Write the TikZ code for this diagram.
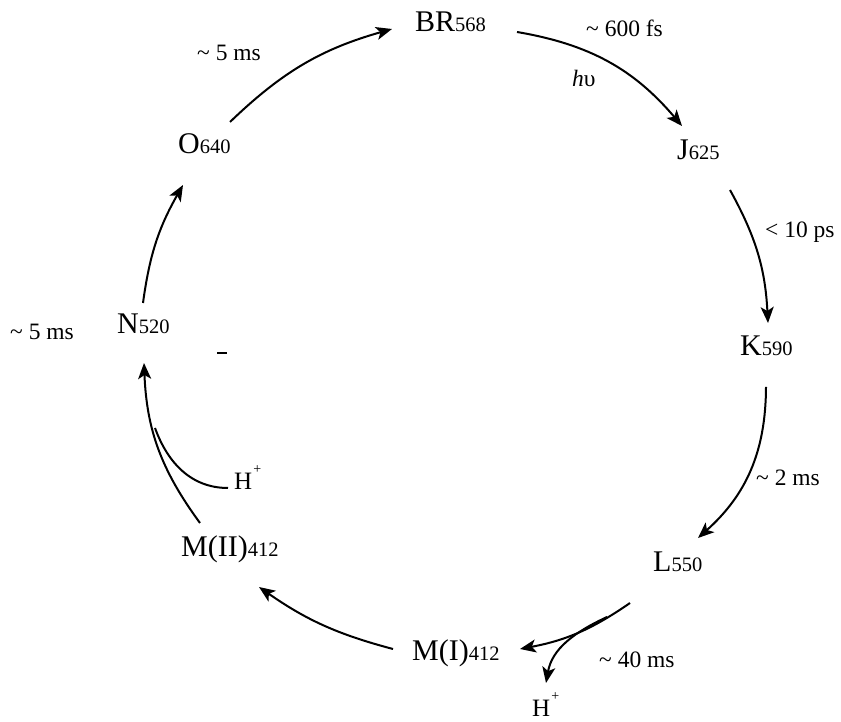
\documentclass[tikz,border=0pt]{standalone}
\usepackage{fontspec}
\setmainfont{Liberation Serif}
\usetikzlibrary{arrows.meta}
\newcommand{\stname}[2]{{\fontsize{30}{30}\selectfont #1}{\fontsize{20.5}{20.5}\selectfont #2}}
\newcommand{\hplus}{{\fontsize{25}{25}\selectfont H}\kern1pt\raisebox{16pt}{\fontsize{14}{14}\selectfont +}}
\begin{document}
\begin{tikzpicture}[x=1pt,y=1pt,
  state/.style={anchor=base west,inner sep=0pt},
  lbl/.style={anchor=base west,inner sep=0pt,font=\fontsize{23.5}{23.5}\selectfont},
  arr/.style={line width=2pt,-{Stealth[length=16pt,width=13pt,inset=4pt]}},
  lin/.style={line width=2pt}]
\useasboundingbox (0,0) rectangle (841,722);
% states
\node[state] (BR) at (415,690) {\stname{BR}{568}};
\node[state] (J)  at (677,562) {\stname{J}{625}};
\node[state] (K)  at (740,366) {\stname{K}{590}};
\node[state] (L)  at (653,150) {\stname{L}{550}};
\node[state] (MI) at (412,61)  {\stname{M(I)}{412}};
\node[state] (MII) at (181,165) {\stname{M(II)}{412}};
\node[state] (N)  at (117,388) {\stname{N}{520}};
\node[state] (O)  at (178,568) {\stname{O}{640}};
% labels
\node[lbl] (t1) at (197,661) {\textasciitilde{} 5 ms};
\node[lbl] (t2) at (586,685) {\textasciitilde{} 600 fs};
\node[lbl] (hv) at (572,635) {\textit{h}υ};
\node[lbl] (t3) at (765,484) {< 10 ps};
\node[lbl] (t4) at (756,236) {\textasciitilde{} 2 ms};
\node[lbl] (t5) at (599,54)  {\textasciitilde{} 40 ms};
\node[lbl] (t6) at (10,382)  {\textasciitilde{} 5 ms};
\node[lbl] (hA) at (234,232) {\hplus};
\node[lbl] (hB) at (532,5)   {\hplus};
% connector endpoints
\coordinate (o1) at (230,600); \coordinate (br2) at (392,693);
\coordinate (br1) at (517,690); \coordinate (j2) at (682,596);
\coordinate (j1) at (730,532); \coordinate (k2) at (768,399);
\coordinate (k1) at (766,335); \coordinate (l2) at (698,184);
\coordinate (l1) at (630,119); \coordinate (mi2) at (520,73);
\coordinate (lb) at (607,105); \coordinate (hb2) at (546,39);
\coordinate (mi1) at (393,73); \coordinate (mii2) at (259,135);
\coordinate (mii1) at (200,199); \coordinate (n2) at (144,359);
\coordinate (ha1) at (228,234); \coordinate (nb) at (155,294);
\coordinate (n1) at (143,419); \coordinate (o2) at (183,537);
\coordinate (d1) at (217,369); \coordinate (d2) at (227,369);
% connectors
\draw[arr] (o1) to[bend left=14] (br2);
\draw[arr] (br1) to[bend left=20] (j2);
\draw[arr] (j1) to[bend left=13] (k2);
\draw[arr] (k1) to[bend left=24] (l2);
\draw[arr] (l1) to[bend left=12] (mi2);
\draw[arr] (lb) to[out=205,in=80] (hb2);
\draw[arr] (mi1) to[bend left=10] (mii2);
\draw[arr] (mii1) to[bend left=17] (n2);
\draw[lin] (ha1) to[out=180,in=290] (nb);
\draw[arr] (n1) to[bend left=11] (o2);
\draw[line width=2pt] (d1) -- (d2);
\end{tikzpicture}
\end{document}
